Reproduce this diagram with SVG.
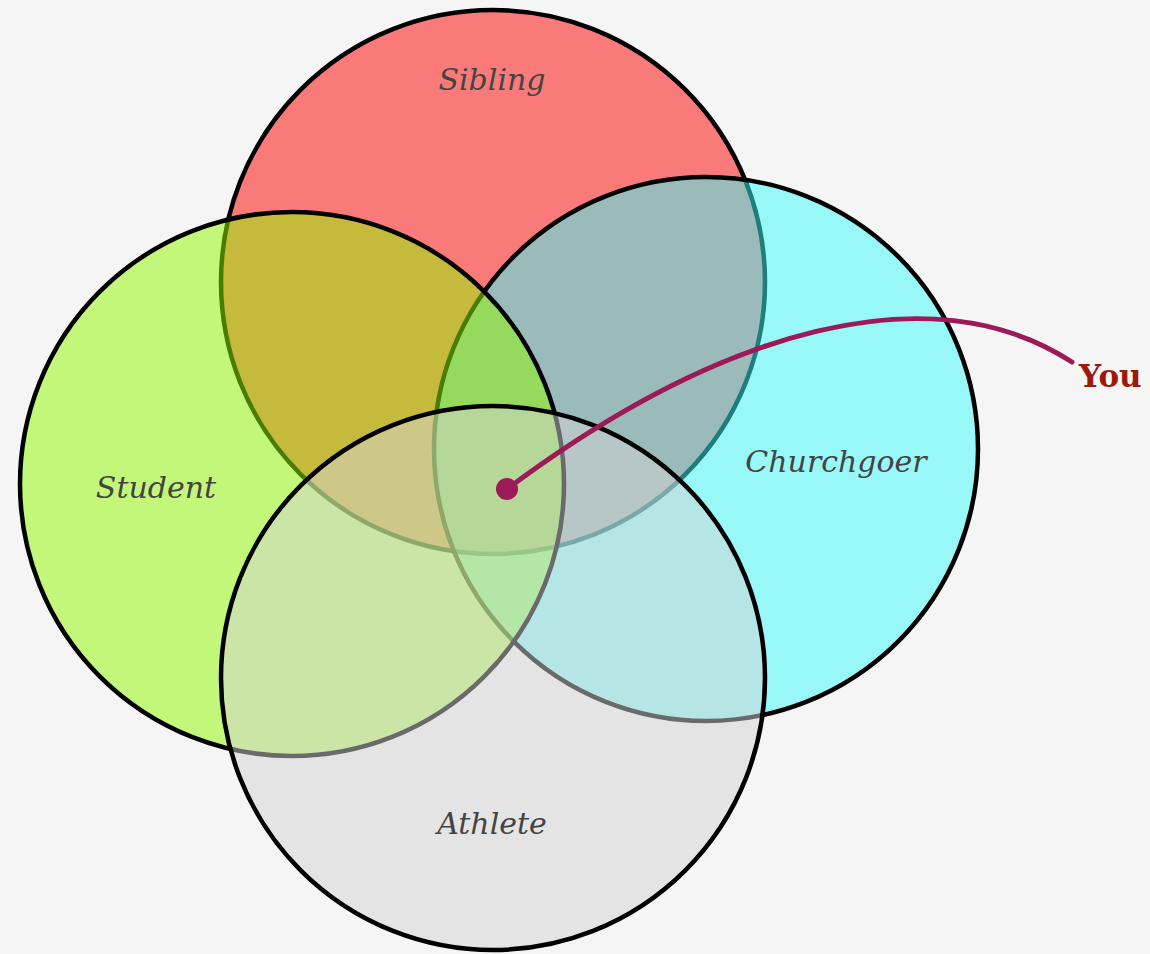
<svg xmlns="http://www.w3.org/2000/svg" width="1150" height="954" viewBox="0 0 1150 954">
  <style>
    .set { stroke: #000; stroke-width: 4.5; fill-opacity: 0.5; }
    .label { font-family: "DejaVu Serif", "Liberation Serif", serif; font-style: italic; font-size: 30px; fill: #444; text-anchor: middle; }
    .you { font-family: "DejaVu Serif", "Liberation Serif", serif; font-weight: bold; font-size: 31px; fill: #9c1a0c; }
    .pointer { fill: none; stroke: #9c1a57; stroke-width: 5; stroke-linecap: round; }
  </style>
  <rect width="1150" height="954" fill="#f5f5f5"/>

  <!-- sets, painted in this order so later fills tint earlier outlines -->
  <g id="sibling">
    <circle class="set" cx="493" cy="282" r="272" fill="#ff0000"/>
    <text class="label" x="492" y="90">Sibling</text>
  </g>
  <g id="churchgoer">
    <circle class="set" cx="706" cy="449" r="272" fill="#3cfafa"/>
    <text class="label" x="836" y="472">Churchgoer</text>
  </g>
  <g id="student">
    <circle class="set" cx="292" cy="484" r="272" fill="#92fa00"/>
    <text class="label" x="156" y="498">Student</text>
  </g>
  <g id="athlete">
    <circle class="set" cx="493" cy="678" r="272" fill="#d3d3d3"/>
    <text class="label" x="492" y="834">Athlete</text>
  </g>

  <!-- pointer to the four-way overlap -->
  <g id="connectors">
    <path class="pointer" d="M507,489 C720,330 930,270 1072,362"/>
    <circle cx="507" cy="489" r="11" fill="#9c1a57"/>
  </g>
  <g id="you">
    <text class="you" x="1079" y="387">You</text>
  </g>
</svg>
